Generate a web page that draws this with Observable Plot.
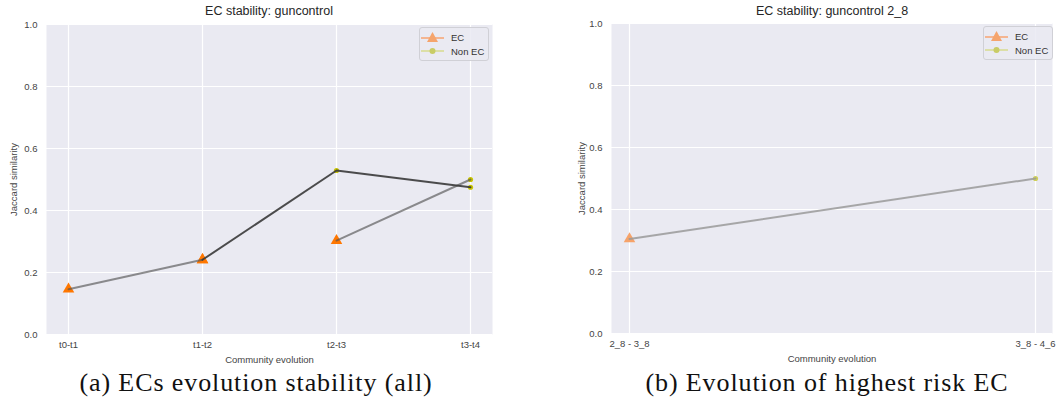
<!DOCTYPE html>
<html>
<head>
<meta charset="utf-8">
<script src="https://cdn.jsdelivr.net/npm/d3@7"></script>
<script src="https://cdn.jsdelivr.net/npm/@observablehq/plot@0.6"></script>
<style>
  body { margin: 0; background: #fff; }
  #root { position: relative; width: 1057px; height: 414px; overflow: hidden; background: #fff; }
  .chart { position: absolute; top: 0; }
  .title { position: absolute; font-family: "Liberation Sans", Arial, sans-serif; font-size: 12.5px; color: #262626; transform: translateX(-50%); white-space: nowrap; top: 4px; }
  .caption { position: absolute; font-family: "Liberation Serif", "DejaVu Serif", serif; font-size: 26px; letter-spacing: 0.9px; color: #111; transform: translateX(-50%); white-space: nowrap; top: 368px; }
  .legend { position: absolute; background: rgba(234,234,242,0.85); border: 1px solid #d0d0d6; border-radius: 3px; font-family: "Liberation Sans", Arial, sans-serif; font-size: 9.5px; color: #333; padding: 2px 4px 2px 1px; }
  .legend .row { display: flex; align-items: center; height: 14px; }
  .legend svg { margin-right: 7px; }
</style>
</head>
<body>
<div id="root"></div>
<script>
// ---- Data ----
const yTicks = [0, 0.2, 0.4, 0.6, 0.8, 1.0];

// Left chart: all ECs
const stepsA = ["t0-t1", "t1-t2", "t2-t3", "t3-t4"];
const pathA1 = [0.146, 0.241, null, null];
const kindA1 = ["EC", "EC", null, null];
const pathA2 = [null, 0.241, 0.529, 0.475];
const kindA2 = [null, "EC", "Non EC", "Non EC"];
const pathA3 = [null, null, 0.303, 0.500];
const kindA3 = [null, null, "EC", "Non EC"];

// Right chart: highest risk EC
const stepsB = ["2_8 - 3_8", "3_8 - 4_6"];
const pathB1 = [0.305, 0.500];
const kindB1 = ["EC", "Non EC"];

const titleA = "EC stability: guncontrol";
const titleB = "EC stability: guncontrol 2_8";
const captionA = "(a) ECs evolution stability (all)";
const captionB = "(b) Evolution of highest risk EC";
const xLabel = "Community evolution";
const yLabel = "Jaccard similarity";
const legendLabels = ["EC", "Non EC"];

// ---- Helpers ----
function rows(steps, values, kinds, path) {
  return steps.map((s, i) => ({step: s, value: values[i], kind: kinds[i], path}))
              .filter(d => d.value != null);
}

const A1 = rows(stepsA, pathA1, kindA1, "p1");
const A2 = rows(stepsA, pathA2, kindA2, "p2");
const A3 = rows(stepsA, pathA3, kindA3, "p3");
const allA = [...A1, ...A2, ...A3];
const B1 = rows(stepsB, pathB1, kindB1, "p1");

const baseStyle = {fontFamily: "Liberation Sans, Arial, sans-serif", fontSize: "9.5px", color: "#555", background: "transparent", overflow: "visible"};

function frameMarks(labelOffsetY) {
  return [
    Plot.frame({fill: "#eaeaf2", stroke: null}),
    Plot.gridX({stroke: "white", strokeOpacity: 1, strokeWidth: 1.2}),
    Plot.gridY({ticks: yTicks, stroke: "white", strokeOpacity: 1, strokeWidth: 1.2}),
    Plot.axisY({ticks: yTicks, tickFormat: ".1f", tickSize: 0, tickPadding: 9, label: yLabel, labelAnchor: "center", labelArrow: "none", labelOffset: labelOffsetY, fill: "#444"}),
    Plot.axisX({tickSize: 0, tickPadding: 7, label: xLabel, labelAnchor: "center", labelArrow: "none", labelOffset: 28, fill: "#444"})
  ];
}

const chartA = Plot.plot({
  width: 528, height: 365,
  marginLeft: 46, marginRight: 36, marginTop: 24, marginBottom: 31,
  style: baseStyle,
  x: {type: "point", domain: stepsA, padding: 0.152},
  y: {domain: [0, 1]},
  marks: [
    ...frameMarks(36),
    Plot.dot(allA.filter(d => d.kind === "EC"), {x: "step", y: "value", symbol: "triangle", r: 4.3, fill: "#ff7700", stroke: null}),
    Plot.dot(allA.filter(d => d.kind === "Non EC"), {x: "step", y: "value", r: 2.6, fill: "#c8c400", stroke: null}),
    Plot.line(A1, {x: "step", y: "value", stroke: "#555", strokeOpacity: 0.65, strokeWidth: 2}),
    Plot.line(A3, {x: "step", y: "value", stroke: "#555", strokeOpacity: 0.65, strokeWidth: 2}),
    Plot.line(A2, {x: "step", y: "value", stroke: "#3a3a3a", strokeOpacity: 0.9, strokeWidth: 2})
  ]
});

const chartB = Plot.plot({
  width: 497, height: 365,
  marginLeft: 51, marginRight: 5, marginTop: 23, marginBottom: 32,
  style: baseStyle,
  x: {type: "point", domain: stepsB, padding: 0.043},
  y: {domain: [0, 1]},
  marks: [
    ...frameMarks(33),
    Plot.dot(B1.filter(d => d.kind === "EC"), {x: "step", y: "value", symbol: "triangle", r: 4.3, fill: "#f6a36a", stroke: null}),
    Plot.dot(B1.filter(d => d.kind === "Non EC"), {x: "step", y: "value", r: 2.6, fill: "#cfd05a", stroke: null}),
    Plot.line(B1, {x: "step", y: "value", stroke: "#9a9a9a", strokeOpacity: 0.85, strokeWidth: 2})
  ]
});

const root = document.getElementById("root");
chartA.classList.add("chart"); chartA.style.left = "0px";
chartB.classList.add("chart"); chartB.style.left = "560px";
root.appendChild(chartA);
root.appendChild(chartB);

function addDiv(cls, text, left, top) {
  const d = document.createElement("div");
  d.className = cls; d.textContent = text;
  d.style.left = left + "px";
  if (top != null) d.style.top = top + "px";
  root.appendChild(d);
}
addDiv("title", titleA, 269);
addDiv("title", titleB, 832);
addDiv("caption", captionA, 256);
addDiv("caption", captionB, 827);

function legend(left, top) {
  const box = document.createElement("div");
  box.className = "legend";
  box.style.left = left + "px"; box.style.top = top + "px";
  const glyphs = [
    `<svg width="23" height="12"><line x1="0" x2="23" y1="7" y2="7" stroke="#f6a878" stroke-width="1.6"/><path d="M11.5,1 L17,11 L6,11 Z" fill="#f5a46c"/></svg>`,
    `<svg width="23" height="12"><line x1="0" x2="23" y1="6" y2="6" stroke="#d8dc94" stroke-width="1.6"/><circle cx="11.5" cy="6" r="3" fill="#c9cc66"/></svg>`
  ];
  legendLabels.forEach((lab, i) => {
    const r = document.createElement("div");
    r.className = "row";
    r.innerHTML = glyphs[i] + `<span>${lab}</span>`;
    box.appendChild(r);
  });
  root.appendChild(box);
}
legend(419, 27);
legend(983, 26);
</script>
</body>
</html>
